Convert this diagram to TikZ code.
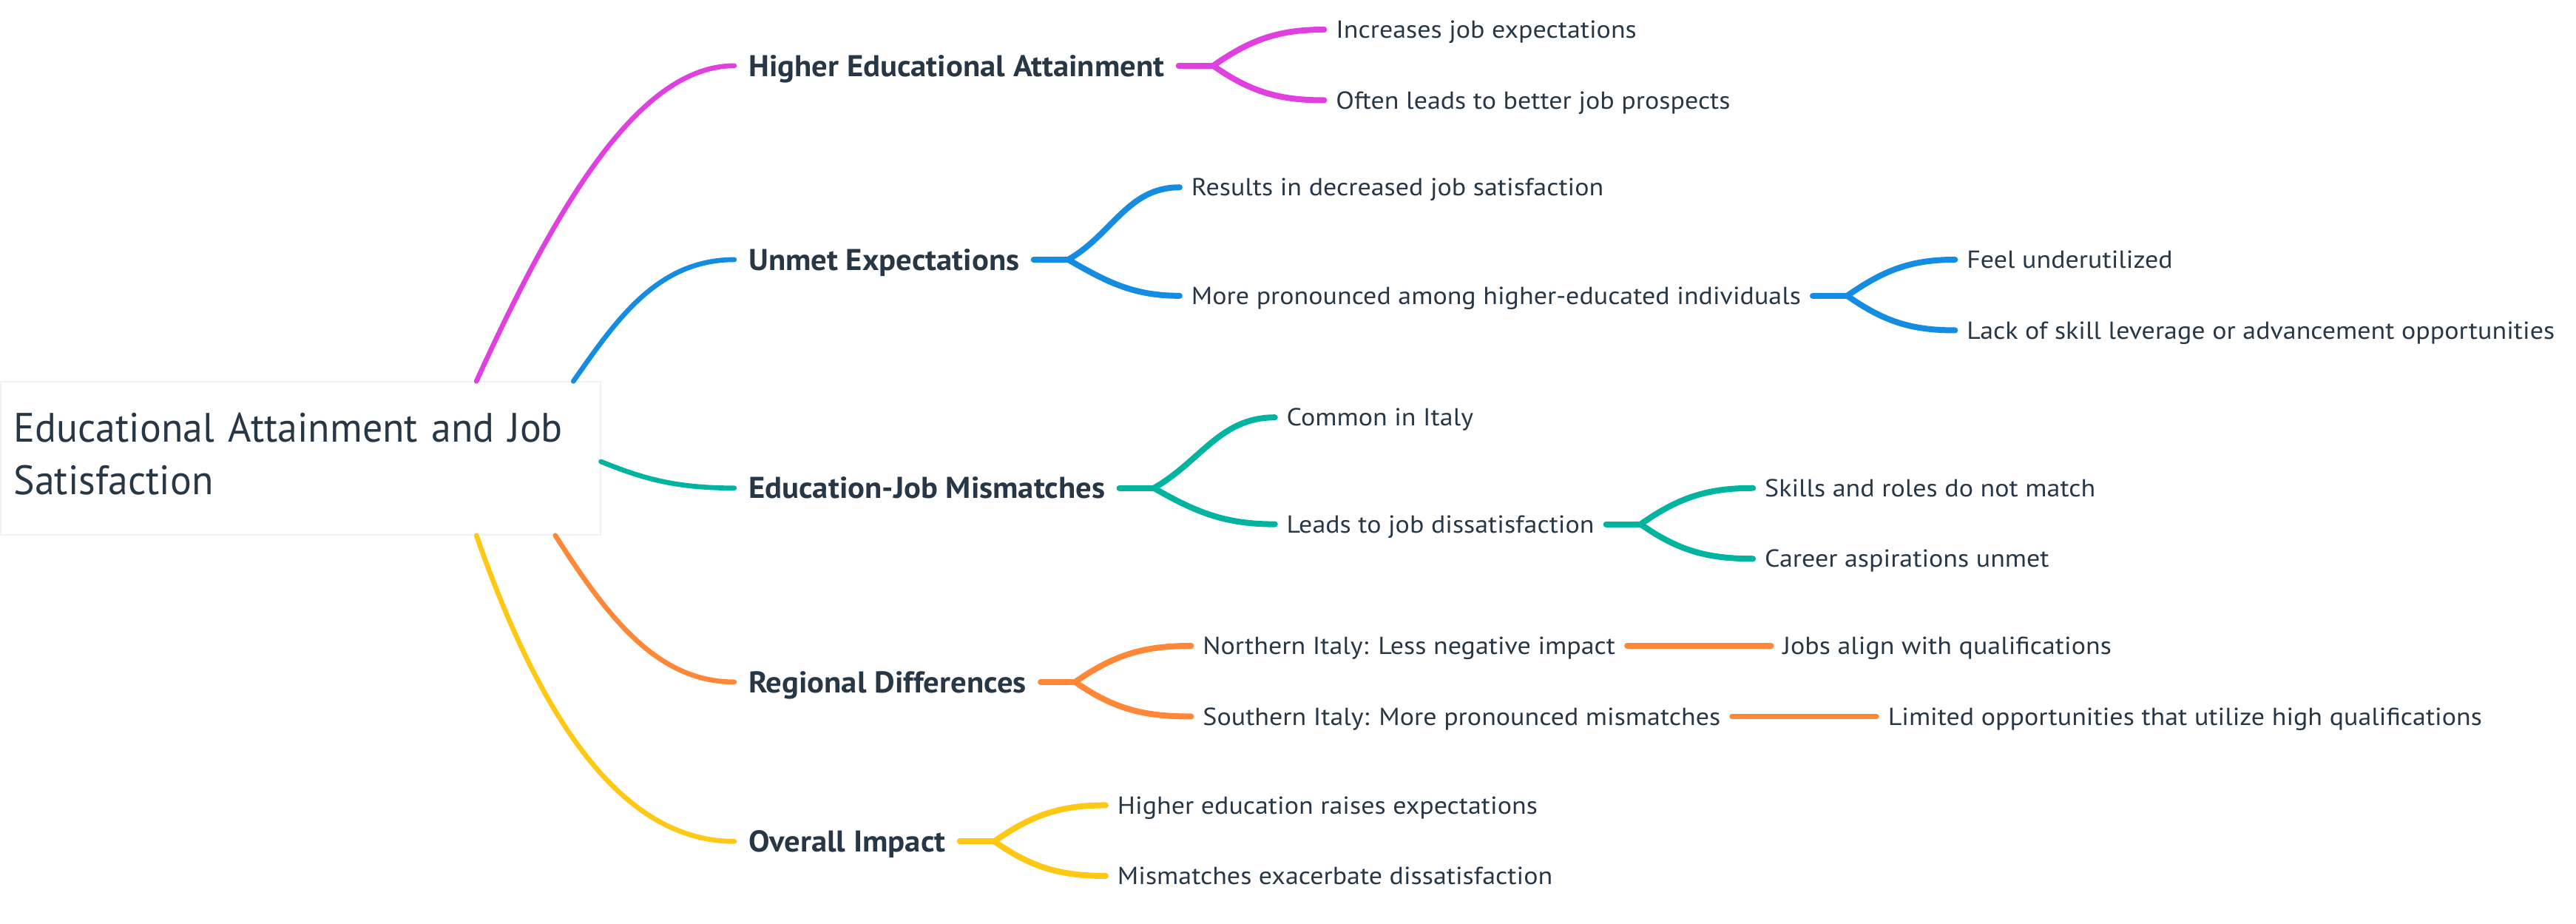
\documentclass[tikz,border=0pt]{standalone}
\usepackage{fontspec}
\setmainfont{PT Sans}
\newfontfamily\leaffont[FakeStretch=1.08]{PT Sans}
\newfontfamily\lvlfont[FakeStretch=1.05]{PT Sans}
\newfontfamily\rootfont[FakeStretch=0.97]{PT Sans}
\usetikzlibrary{calc}
\definecolor{txt}{RGB}{40,55,70}
\definecolor{cmag}{RGB}{224,64,224}
\definecolor{cblu}{RGB}{20,140,225}
\definecolor{ctea}{RGB}{0,180,160}
\definecolor{corg}{RGB}{255,135,55}
\definecolor{cyel}{RGB}{255,200,20}
\begin{document}
\begin{tikzpicture}[x=1pt,y=-1pt,
  leaf/.style={anchor=west, inner xsep=7pt, inner ysep=0pt, text=txt,
    font=\leaffont\fontsize{15}{17}\selectfont, text height=10.5pt, text depth=0pt},
  mainb/.style={anchor=west, inner xsep=8.5pt, inner ysep=0pt, text=txt,
    font=\lvlfont\bfseries\fontsize{18.3}{21}\selectfont, text height=12.8pt, text depth=0pt},
  rootbox/.style={anchor=north west, fill=white, draw=black!5, line width=0.8pt,
    minimum width=365pt, minimum height=93pt, inner xsep=8pt, align=left,
    text width=349pt, text=txt, font=\rootfont\fontsize{25}{32}\selectfont},
  trunk/.style={line width=3pt, line cap=round},
  twig/.style={line width=3.6pt, line cap=round},
]
\useasboundingbox (0,0) rectangle (1568,562);

% root
\node[rootbox] (root) at (0,232) {Educational Attainment and Job\\Satisfaction\\[-26pt]\mbox{}};

% level 1
\node[mainb] (hea) at (447,40) {Higher Educational Attainment};
\node[mainb] (une) at (447,158) {Unmet Expectations};
\node[mainb] (edu) at (447,297) {Education-Job Mismatches};
\node[mainb] (reg) at (447,415) {Regional Differences};
\node[mainb] (ove) at (447,512) {Overall Impact};

% level 2
\node[leaf] (a1) at (806,18) {Increases job expectations};
\node[leaf] (a2) at (806,61) {Often leads to better job prospects};
\node[leaf] (b1) at (718,114) {Results in decreased job satisfaction};
\node[leaf] (b2) at (718,180) {More pronounced among higher-educated individuals};
\node[leaf] (b21) at (1190,158) {Feel underutilized};
\node[leaf] (b22) at (1190,201) {Lack of skill leverage or advancement opportunities};
\node[leaf] (c1) at (776,254) {Common in Italy};
\node[leaf] (c2) at (776,319) {Leads to job dissatisfaction};
\node[leaf] (c21) at (1067,297) {Skills and roles do not match};
\node[leaf] (c22) at (1067,340) {Career aspirations unmet};
\node[leaf] (d1) at (725,393) {Northern Italy: Less negative impact};
\node[leaf] (d2) at (725,436) {Southern Italy: More pronounced mismatches};
\node[leaf] (d11) at (1078,393) {Jobs align with qualifications};
\node[leaf] (d21) at (1142,436) {Limited opportunities that utilize high qualifications};
\node[leaf] (e1) at (673,490) {Higher education raises expectations};
\node[leaf] (e2) at (673,533) {Mismatches exacerbate dissatisfaction};

% root exits
\coordinate (rm) at ($(root.north west)+(290,0)$);
\coordinate (rb) at ($(root.north west)+(349,0)$);
\coordinate (rt) at ($(root.east)+(0,2)$);
\coordinate (ro) at ($(root.south west)+(338,0)$);
\coordinate (ry) at ($(root.south west)+(290,0)$);

\draw[trunk,cmag] (rm) .. controls +(50,-110) and +(-57,0) .. (hea.west);
\draw[trunk,cblu] (rb) .. controls +(26,-37) and +(-47,0) .. (une.west);
\draw[trunk,ctea] (rt) .. controls +(25,10) and +(-37,0) .. (edu.west);
\draw[trunk,corg] (ro) .. controls +(32,50) and +(-47,0) .. (reg.west);
\draw[trunk,cyel] (ry) .. controls +(40,115) and +(-67,0) .. (ove.west);

% forks
\coordinate (fa) at ($(hea.east)+(21,0)$);
\draw[twig,cmag] (hea.east) -- (fa);
\draw[twig,cmag] (fa) to[out=35,in=180] (a1.west);
\draw[twig,cmag] (fa) to[out=-35,in=180] (a2.west);

\coordinate (fb) at ($(une.east)+(21,0)$);
\draw[twig,cblu] (une.east) -- (fb);
\draw[twig,cblu] (fb) to[out=30,in=180] (b1.west);
\draw[twig,cblu] (fb) to[out=-30,in=180] (b2.west);

\coordinate (fb2) at ($(b2.east)+(21,0)$);
\draw[twig,cblu] (b2.east) -- (fb2);
\draw[twig,cblu] (fb2) to[out=35,in=180] (b21.west);
\draw[twig,cblu] (fb2) to[out=-35,in=180] (b22.west);

\coordinate (fc) at ($(edu.east)+(21,0)$);
\draw[twig,ctea] (edu.east) -- (fc);
\draw[twig,ctea] (fc) to[out=30,in=180] (c1.west);
\draw[twig,ctea] (fc) to[out=-30,in=180] (c2.west);

\coordinate (fc2) at ($(c2.east)+(21,0)$);
\draw[twig,ctea] (c2.east) -- (fc2);
\draw[twig,ctea] (fc2) to[out=35,in=180] (c21.west);
\draw[twig,ctea] (fc2) to[out=-35,in=180] (c22.west);

\coordinate (fd) at ($(reg.east)+(21,0)$);
\draw[twig,corg] (reg.east) -- (fd);
\draw[twig,corg] (fd) to[out=35,in=180] (d1.west);
\draw[twig,corg] (fd) to[out=-35,in=180] (d2.west);
\draw[twig,corg] (d1.east) -- (d11.west);
\draw[twig,corg] (d2.east) -- (d21.west);

\coordinate (fe) at ($(ove.east)+(21,0)$);
\draw[twig,cyel] (ove.east) -- (fe);
\draw[twig,cyel] (fe) to[out=35,in=180] (e1.west);
\draw[twig,cyel] (fe) to[out=-35,in=180] (e2.west);
\end{tikzpicture}
\end{document}
